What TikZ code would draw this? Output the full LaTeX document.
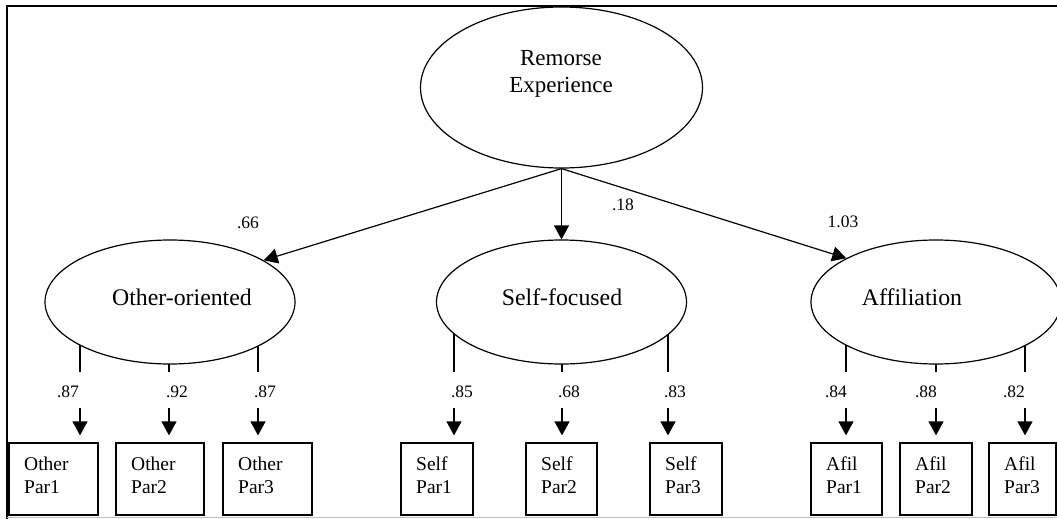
\documentclass[tikz,border=0pt]{standalone}
\usepackage{fontspec}
\setmainfont{Liberation Serif}
\usetikzlibrary{arrows.meta,shapes.geometric,backgrounds}
\tikzset{
  latent/.style={ellipse, draw, line width=1.2pt, fill=white, inner sep=0pt},
  obs/.style={rectangle, draw, line width=1.2pt, minimum height=72pt, inner sep=0pt},
  obstext/.style={anchor=north west, align=left, inner sep=0pt, font=\fontsize{19.5}{22.5}\selectfont},
  lab/.style={inner sep=0pt, font=\fontsize{17.5}{20}\selectfont},
  etext/.style={inner sep=0pt, align=center, font=\fontsize{23}{27}\selectfont},
  mtext/.style={inner sep=0pt, anchor=base, font=\fontsize{23.8}{27}\selectfont},
  regr/.style={line width=1.2pt, -{Triangle[length=14pt,width=15pt]}},
  ind/.style={line width=1.2pt},
}
\begin{document}
\begin{tikzpicture}[x=1pt,y=-1pt]
\clip (0,0) rectangle (1057,519);
% frame
\draw[line width=2.2pt] (7,519) -- (7,6) -- (1057,6);
\draw[black!25, line width=1pt] (7,517.5) -- (1057,517.5);

% latent variables
\node[latent, minimum width=282pt, minimum height=161pt] (R) at (561.5,87.5) {};
\node[latent, minimum width=250pt, minimum height=124pt] (O) at (170,302) {};
\node[latent, minimum width=250pt, minimum height=124pt] (S) at (561.5,302) {};
\node[latent, minimum width=250pt, minimum height=124pt] (A) at (936,302) {};

\node[etext] (Rt) at (561,74) {Remorse\\Experience};
\node[mtext] (Ot) at (182,305) {Other-oriented};
\node[mtext] (St) at (562,305) {Self-focused};
\node[mtext] (At) at (912,305) {Affiliation};

% structural paths
\draw[regr] (R.south) -- (O.24);
\draw[regr] (R.south) -- (S.north);
\draw[regr] (R.south) -- (A.154);
\node[lab] (l1) at (248,223) {.66};
\node[lab] (l2) at (623,205) {.18};
\node[lab] (l3) at (843,222) {1.03};

% observed indicators
\node[obs, minimum width=89pt] (o1) at (53.5,479) {};
\node[obs, minimum width=88pt] (o2) at (160,479) {};
\node[obs, minimum width=89pt] (o3) at (267.5,479) {};
\node[obs, minimum width=72pt] (s1) at (437,479) {};
\node[obs, minimum width=71pt] (s2) at (561.5,479) {};
\node[obs, minimum width=72pt] (s3) at (686,479) {};
\node[obs, minimum width=71pt] (a1) at (846.5,479) {};
\node[obs, minimum width=72pt] (a2) at (936,479) {};
\node[obs, minimum width=67pt] (a3) at (1022.5,479) {};

\node[obstext] (o1t) at (24,457) {Other\\Par1};
\node[obstext] (o2t) at (131,457) {Other\\Par2};
\node[obstext] (o3t) at (238,457) {Other\\Par3};
\node[obstext] (s1t) at (416,457) {Self\\Par1};
\node[obstext] (s2t) at (541,457) {Self\\Par2};
\node[obstext] (s3t) at (665,457) {Self\\Par3};
\node[obstext] (a1t) at (826,457) {Afil\\Par1};
\node[obstext] (a2t) at (915,457) {Afil\\Par2};
\node[obstext] (a3t) at (1004,457) {Afil\\Par3};

% loadings
\begin{scope}[on background layer]
\foreach \lv/\x in {O/80, O/169, O/258, S/454, S/562, S/668, A/846, A/936, A/1025}{
  \draw[ind] (\lv.center -| \x,0) -- (\x,372);
}
\end{scope}
\foreach \bx/\x in {o1/80, o2/169, o3/258, s1/454, s2/562, s3/668, a1/846, a2/936, a3/1025}{
  \draw[regr, shorten >=7pt] (\x,408) -- (\bx.north -| \x,0);
}
\foreach \name/\x/\t in {lo1/68/.87, lo2/177/.92, lo3/265/.87, ls1/462/.85, ls2/569/.68, ls3/675/.83, la1/836/.84, la2/926/.88, la3/1014/.82}{
  \node[lab] (\name) at (\x,392) {\t};
}
\end{tikzpicture}
\end{document}
